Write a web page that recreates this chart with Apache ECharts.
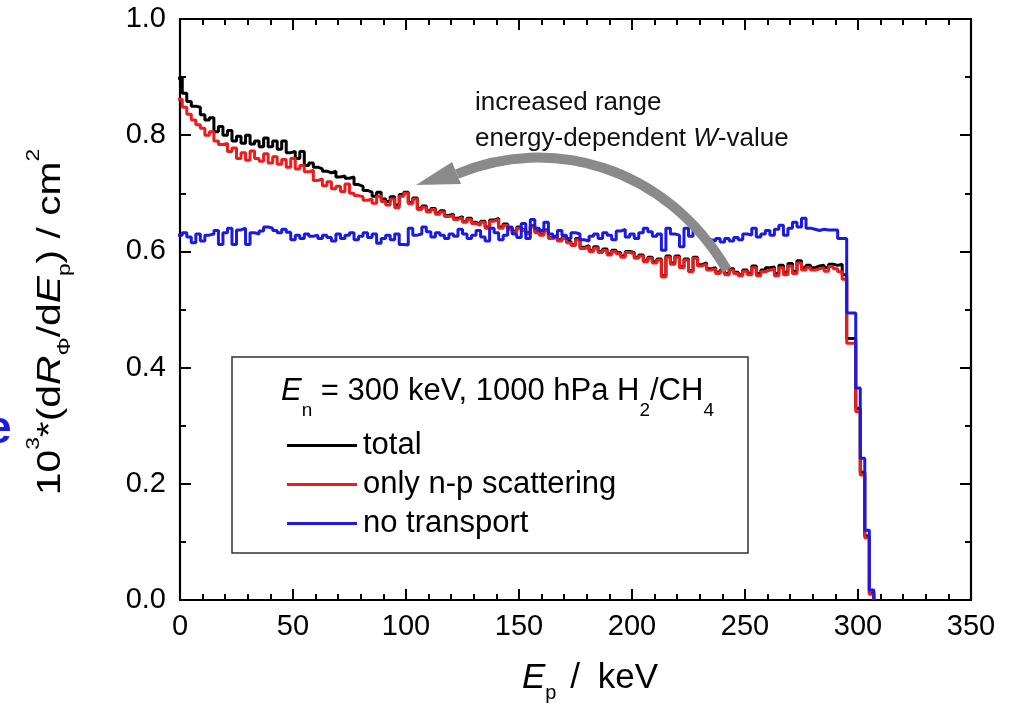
<!DOCTYPE html>
<html>
<head>
<meta charset="utf-8">
<script src="https://cdn.jsdelivr.net/npm/echarts@6/dist/echarts.min.js"></script>
<style>
  html, body { margin: 0; padding: 0; background: #fff; }
  #chart { width: 1010px; height: 711px; }
</style>
</head>
<body>
<div id="chart"></div>
<script>
// histogram bins: 2 keV wide, first bin centred on 0 keV
const binStart = -1;
const binWidth = 2;

// total
const totalValues = [
  0.898, 0.872, 0.858, 0.850, 0.848, 0.835, 0.826, 0.830, 0.806, 0.815,
  0.800, 0.808, 0.790, 0.798, 0.786, 0.800, 0.785, 0.790, 0.780, 0.795,
  0.780, 0.790, 0.776, 0.790, 0.770, 0.772, 0.760, 0.772, 0.748, 0.752,
  0.745, 0.742, 0.738, 0.735, 0.738, 0.728, 0.730, 0.726, 0.728, 0.715,
  0.712, 0.705, 0.702, 0.695, 0.702, 0.690, 0.686, 0.694, 0.680, 0.698,
  0.702, 0.684, 0.692, 0.674, 0.678, 0.670, 0.674, 0.666, 0.670, 0.662,
  0.664, 0.657, 0.660, 0.652, 0.657, 0.650, 0.647, 0.652, 0.642, 0.654,
  0.657, 0.642, 0.647, 0.640, 0.635, 0.642, 0.638, 0.632, 0.644, 0.634,
  0.630, 0.637, 0.624, 0.627, 0.620, 0.624, 0.617, 0.612, 0.622, 0.607,
  0.610, 0.602, 0.608, 0.600, 0.604, 0.596, 0.602, 0.598, 0.592, 0.600,
  0.598, 0.590, 0.594, 0.584, 0.590, 0.582, 0.587, 0.558, 0.592, 0.580,
  0.592, 0.574, 0.587, 0.567, 0.590, 0.577, 0.580, 0.570, 0.572, 0.564,
  0.568, 0.562, 0.570, 0.564, 0.560, 0.568, 0.563, 0.575, 0.562, 0.568,
  0.572, 0.573, 0.562, 0.576, 0.564, 0.579, 0.566, 0.584, 0.572, 0.576,
  0.572, 0.575, 0.576, 0.572, 0.578, 0.576, 0.578, 0.560, 0.450, 0.450,
  0.330, 0.220, 0.110, 0.012
];

// only n-p scattering
const npValues = [
  0.862, 0.848, 0.836, 0.826, 0.818, 0.812, 0.800, 0.806, 0.790, 0.784,
  0.786, 0.772, 0.778, 0.760, 0.770, 0.757, 0.773, 0.760, 0.755, 0.768,
  0.752, 0.763, 0.750, 0.758, 0.745, 0.760, 0.742, 0.748, 0.737, 0.740,
  0.722, 0.725, 0.713, 0.720, 0.708, 0.712, 0.703, 0.716, 0.700, 0.696,
  0.694, 0.688, 0.690, 0.683, 0.695, 0.686, 0.680, 0.690, 0.675, 0.695,
  0.700, 0.682, 0.690, 0.672, 0.676, 0.668, 0.672, 0.664, 0.668, 0.660,
  0.662, 0.655, 0.658, 0.650, 0.655, 0.648, 0.645, 0.650, 0.640, 0.652,
  0.655, 0.640, 0.645, 0.638, 0.633, 0.640, 0.636, 0.630, 0.642, 0.632,
  0.628, 0.635, 0.622, 0.625, 0.618, 0.622, 0.615, 0.610, 0.620, 0.605,
  0.608, 0.600, 0.606, 0.598, 0.602, 0.594, 0.600, 0.596, 0.590, 0.598,
  0.596, 0.588, 0.592, 0.582, 0.588, 0.580, 0.585, 0.556, 0.590, 0.578,
  0.590, 0.572, 0.585, 0.565, 0.588, 0.575, 0.578, 0.568, 0.570, 0.562,
  0.566, 0.560, 0.568, 0.562, 0.558, 0.566, 0.560, 0.572, 0.558, 0.565,
  0.568, 0.570, 0.558, 0.572, 0.560, 0.575, 0.562, 0.580, 0.568, 0.572,
  0.568, 0.570, 0.572, 0.566, 0.574, 0.570, 0.565, 0.552, 0.442, 0.442,
  0.324, 0.215, 0.107, 0.010
];

// no transport
const noTransportValues = [
  0.628, 0.632, 0.625, 0.615, 0.630, 0.618, 0.628, 0.630, 0.636, 0.612,
  0.632, 0.640, 0.612, 0.637, 0.640, 0.612, 0.632, 0.630, 0.635, 0.642,
  0.640, 0.636, 0.632, 0.638, 0.633, 0.620, 0.628, 0.622, 0.630, 0.626,
  0.628, 0.622, 0.628, 0.624, 0.618, 0.630, 0.622, 0.628, 0.632, 0.620,
  0.626, 0.632, 0.624, 0.630, 0.614, 0.622, 0.628, 0.620, 0.630, 0.612,
  0.611, 0.640, 0.628, 0.630, 0.642, 0.634, 0.625, 0.632, 0.628, 0.622,
  0.630, 0.626, 0.638, 0.630, 0.622, 0.628, 0.636, 0.625, 0.618, 0.640,
  0.632, 0.620, 0.628, 0.642, 0.630, 0.624, 0.648, 0.622, 0.655, 0.640,
  0.636, 0.650, 0.630, 0.625, 0.636, 0.628, 0.622, 0.632, 0.630, 0.620,
  0.618, 0.626, 0.630, 0.622, 0.632, 0.628, 0.620, 0.635, 0.638, 0.625,
  0.630, 0.622, 0.632, 0.640, 0.634, 0.626, 0.630, 0.602, 0.640, 0.630,
  0.628, 0.608, 0.640, 0.626, 0.636, 0.630, 0.625, 0.620, 0.618, 0.622,
  0.616, 0.622, 0.618, 0.624, 0.620, 0.630, 0.628, 0.640, 0.625, 0.630,
  0.636, 0.628, 0.638, 0.645, 0.628, 0.640, 0.650, 0.642, 0.657, 0.640,
  0.638, 0.636, 0.638, 0.637, 0.637, 0.637, 0.622, 0.622, 0.494, 0.494,
  0.365, 0.244, 0.120, 0.017
];

const seriesNames = ["total", "only n-p scattering", "no transport"];
const seriesColors = ["#000000", "#ee1c1c", "#1a1ae6"];

const FONT = "'Liberation Sans', Arial, sans-serif";

function toSteps(values) {
  const pts = values.map((v, i) => [binStart + i * binWidth, v]);
  pts.push([binStart + values.length * binWidth, 0]);
  return pts;
}

function frameAxis(position, isX, showLabel) {
  return {
    type: "value",
    position: position,
    min: 0,
    max: isX ? 350 : 1,
    interval: isX ? 50 : 0.2,
    axisLine: { show: true, onZero: false, lineStyle: { color: "#000", width: 2.2 } },
    axisTick: { show: true, inside: true, length: 11, lineStyle: { color: "#000", width: 2 } },
    minorTick: { show: true, splitNumber: isX ? 5 : 2, length: 6, lineStyle: { color: "#000", width: 2 } },
    splitLine: { show: false },
    minorSplitLine: { show: false },
    axisLabel: {
      show: showLabel,
      color: "#000",
      fontSize: 29,
      fontFamily: FONT,
      margin: isX ? 12 : 14,
      formatter: isX ? "{value}" : (v) => v.toFixed(1),
    },
  };
}

// rich-text helpers: every token is top aligned, padding moves it down
function tok(size, padTop, italic) {
  return {
    fontSize: size,
    fontStyle: italic ? "italic" : "normal",
    verticalAlign: "top",
    padding: [padTop, 0, 0, 0],
    fill: "#000",
    fontFamily: FONT,
  };
}

const chart = echarts.init(document.getElementById("chart"));

const option = {
  animation: false,
  backgroundColor: "#fff",
  grid: { left: 180, right: 39, top: 19, bottom: 111 },
  xAxis: [frameAxis("bottom", true, true), frameAxis("top", true, false)],
  yAxis: [frameAxis("left", false, true), frameAxis("right", false, false)],
  legend: {
    orient: "vertical",
    left: 282,
    top: 425,
    icon: "rect",
    itemWidth: 70,
    itemHeight: 3,
    itemGap: 8,
    data: seriesNames,
    textStyle: { fontSize: 31, lineHeight: 31, color: "#000", fontFamily: FONT, padding: [0, 0, 0, 1] },
  },
  series: [totalValues, npValues, noTransportValues].map((vals, idx) => ({
    name: seriesNames[idx],
    type: "line",
    step: "end",
    xAxisIndex: 0,
    yAxisIndex: 0,
    showSymbol: false,
    symbol: "none",
    color: seriesColors[idx],
    lineStyle: { color: seriesColors[idx], width: 3 },
    z: 2 + idx,
    data: toSteps(vals),
  })),
  graphic: [
    // legend frame and its heading
    {
      type: "rect",
      shape: { x: 232, y: 357, width: 516, height: 196 },
      style: { fill: "none", stroke: "#333", lineWidth: 1.5 },
      z: 10,
    },
    {
      type: "text",
      x: 281,
      y: 376,
      z: 10,
      style: {
        text: "{i|E}{s|n}{n| = 300 keV, 1000 hPa H}{s|2}{n|/CH}{s|4}",
        rich: { i: tok(31, 0, true), n: tok(31, 0, false), s: tok(19, 25, false) },
      },
    },
    // axis names
    {
      type: "text",
      x: 590,
      y: 661,
      style: {
        text: "{i|E}{s|p}{n| / }{k|keV}",
        align: "center",
        verticalAlign: "top",
        rich: {
          i: tok(35, 0, true),
          n: tok(35, 0, false),
          k: Object.assign(tok(35, 0, false), { padding: [0, 0, 0, 8] }),
          s: Object.assign(tok(20, 22, false), { padding: [22, 4, 0, 0] }),
        },
      },
    },
    {
      type: "text",
      x: 24,
      y: 322,
      rotation: Math.PI / 2,
      scaleX: 1.2,
      style: {
        text: "{n|10}{p|3}{n|*(d}{i|R}{s|\u03A6}{n|/d}{i|E}{s|p}{n|) / cm}{p|2}",
        align: "center",
        verticalAlign: "top",
        rich: { n: tok(34, 10, false), i: tok(34, 10, true), p: tok(19, 0, false), s: tok(19, 31, false) },
      },
    },
    // annotation
    {
      type: "text",
      x: 475,
      y: 85,
      style: {
        text: "{n|increased range}\n{n|energy-dependent }{i|W}{n|-value}",
        fontFamily: FONT,
        rich: {
          n: { fontSize: 26, lineHeight: 36, fill: "#111", fontFamily: FONT },
          i: { fontSize: 26, lineHeight: 36, fontStyle: "italic", fill: "#111", fontFamily: FONT },
        },
      },
    },
    {
      type: "bezierCurve",
      shape: { x1: 727, y1: 270, cpx1: 665, cpy1: 165, cpx2: 550, cpy2: 135, x2: 457, y2: 174 },
      style: { stroke: "#8a8a8a", lineWidth: 10, fill: "none" },
      z: 20,
    },
    {
      type: "polygon",
      shape: { points: [[416, 185], [452, 162], [461, 184]] },
      style: { fill: "#8a8a8a" },
      z: 20,
    },
    // clipped blue letter at the left edge
    {
      type: "text",
      x: -14,
      y: 430,
      style: { text: "e", fontSize: 46, fontWeight: "bold", fill: "#1a1ae6", verticalAlign: "middle", fontFamily: FONT },
    },
  ],
};

chart.setOption(option);
</script>
</body>
</html>
